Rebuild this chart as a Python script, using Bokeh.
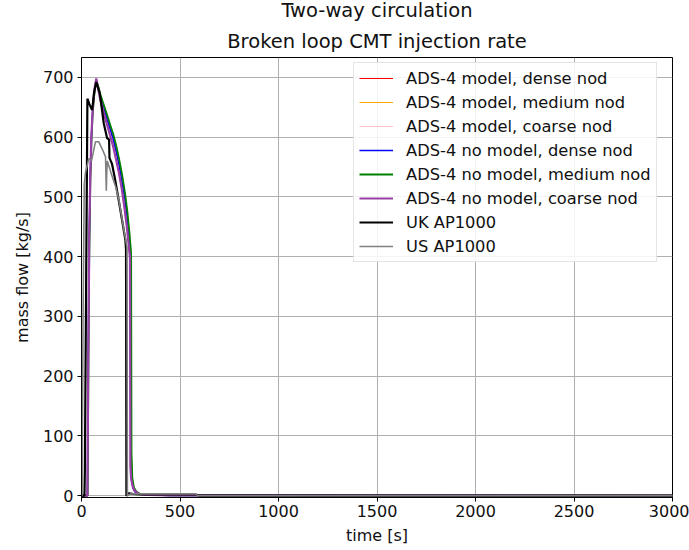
from bokeh.plotting import figure
from bokeh.models import Range1d, Label, Legend, LegendItem, FixedTicker
from bokeh.embed import file_html
from bokeh.resources import INLINE

# ---------------- data ----------------
t_red = [0, 30, 34, 38, 44, 50, 56, 62, 68, 75, 85, 95, 105, 115, 130, 145, 160, 175, 190, 205, 220, 232, 242, 249, 251, 255, 262, 272, 290, 330, 450, 3000]
v_red = [0, 0, 215, 395, 528, 598, 638, 663, 682, 695, 681, 667, 656, 646, 629, 613, 597, 577, 554, 527, 496, 464, 429, 399, 58, 24, 12, 6, 3, 1.5, 0.5, 0]

t_orange = [0, 31, 35, 39, 45, 51, 57, 63, 69, 76, 86, 96, 106, 116, 131, 146, 161, 176, 191, 206, 221, 233, 244, 252, 254, 258, 266, 278, 298, 340, 460, 3000]
v_orange = [0, 0, 205, 385, 522, 596, 638, 662, 680, 693, 683, 670, 660, 650, 635, 619, 604, 585, 562, 536, 505, 474, 437, 404, 68, 29, 14, 7, 3, 1.5, 0.5, 0]

t_pink = [0, 30, 35, 40, 45, 50, 55, 60, 67, 75, 85, 95, 105, 115, 130, 145, 160, 175, 190, 205, 218, 230, 240, 246, 248, 252, 260, 272, 292, 335, 450, 3000]
v_pink = [0, 0, 245, 445, 538, 598, 633, 658, 680, 697, 679, 662, 649, 637, 619, 602, 584, 562, 539, 511, 481, 449, 417, 397, 48, 27, 15, 7, 3, 1.5, 0.5, 0]

t_blue = [0, 30, 34, 38, 44, 50, 56, 62, 68, 75, 85, 95, 105, 115, 130, 145, 160, 175, 190, 205, 220, 232, 242, 249, 251, 255, 262, 272, 290, 330, 450, 3000]
v_blue = [0, 0, 220, 400, 530, 600, 640, 665, 683, 696, 682, 668, 657, 647, 630, 614, 598, 578, 555, 528, 497, 465, 430, 400, 60, 25, 12, 6, 3, 1.5, 0.5, 0]

t_green = [0, 31, 35, 39, 45, 51, 57, 63, 69, 76, 86, 96, 106, 116, 131, 146, 161, 176, 191, 206, 221, 233, 244, 252, 254, 258, 266, 278, 298, 340, 460, 3000]
v_green = [0, 0, 210, 390, 525, 598, 640, 664, 682, 694, 684, 671, 661, 651, 636, 620, 605, 586, 563, 537, 506, 475, 438, 405, 70, 30, 14, 7, 3, 1.5, 0.5, 0]

t_purple = [0, 30, 35, 40, 45, 50, 55, 60, 67, 75, 85, 95, 105, 115, 130, 145, 160, 175, 190, 205, 218, 230, 240, 246, 248, 252, 260, 272, 292, 335, 450, 3000]
v_purple = [0, 0, 250, 450, 540, 600, 635, 660, 682, 698, 680, 663, 650, 638, 620, 603, 585, 563, 540, 512, 482, 450, 418, 398, 50, 28, 15, 7, 3, 1.5, 0.5, 0]

t_uk = [0, 15, 17, 30, 40, 54, 64, 75, 93, 113, 130, 140, 142, 155, 170, 190, 210, 223, 226, 228, 240, 260, 300, 400, 580, 600, 3000]
v_uk = [0, 0, 40, 664, 655, 645, 675, 692, 673, 623, 598, 596, 565, 555, 530, 492, 453, 427, 412, 0, 4, 3, 2, 2, 2, 0, 0]

t_us = [0, 3, 8, 14, 20, 37, 51, 62, 71, 88, 105, 122, 126, 128, 131, 150, 175, 190, 215, 231, 233, 250, 400, 580, 590, 3000]
v_us = [0, 0, 300, 520, 540, 564, 560, 578, 592, 592, 580, 567, 510, 540, 560, 540, 515, 494, 445, 416, 0, 3, 3, 3, 0, 0]

series_labels = ["ADS-4 model, dense nod", "ADS-4 model, medium nod", "ADS-4 model, coarse nod",
                 "ADS-4 no model, dense nod", "ADS-4 no model, medium nod", "ADS-4 no model, coarse nod",
                 "UK AP1000", "US AP1000"]
title_lines = ["Broken loop CMT injection rate", "Two-way circulation"]
x_ticks = [0, 500, 1000, 1500, 2000, 2500, 3000]
y_ticks = [0, 100, 200, 300, 400, 500, 600, 700]

# ---------------- figure ----------------
FONT = "DejaVu Sans"
FRAME_W = 591
p = figure(width=689, height=550, output_backend="svg", toolbar_location=None,
           x_range=Range1d(0, 3000), y_range=Range1d(-3, 733),
           min_border_left=81, min_border_right=17, min_border_top=57, min_border_bottom=53)
p.title.text = ""
p.background_fill_color = "white"
p.border_fill_color = "white"
p.outline_line_color = "black"
p.outline_line_width = 1

# title lines placed in the panel above the frame
for txt, sy in zip(title_lines, [16, 24]):
    p.add_layout(Label(x=FRAME_W / 2, y=sy, x_units="screen", y_units="screen", text=txt,
                       text_align="center", text_baseline="middle", text_font=FONT,
                       text_font_size="19.5px", text_color="#111111"), "above")

for ax in (p.xaxis, p.yaxis):
    ax.axis_line_color = "black"
    ax.major_tick_line_color = "black"
    ax.major_tick_out = 4
    ax.major_tick_in = 0
    ax.minor_tick_line_color = None
    ax.major_label_text_font = FONT
    ax.major_label_text_font_size = "16px"
    ax.major_label_text_color = "#111111"
    ax.axis_label_text_font = FONT
    ax.axis_label_text_font_size = "16px"
    ax.axis_label_text_font_style = "normal"
    ax.axis_label_text_color = "#111111"
p.xaxis.ticker = FixedTicker(ticks=x_ticks)
p.yaxis.ticker = FixedTicker(ticks=y_ticks)
p.xaxis.axis_label = "time [s]"
p.yaxis.axis_label = "mass flow [kg/s]"
p.xaxis.major_label_standoff = 3
p.yaxis.major_label_standoff = 4
p.xaxis.axis_label_standoff = 6
p.yaxis.axis_label_standoff = 8
p.xgrid.grid_line_color = "#b0b0b0"
p.ygrid.grid_line_color = "#b0b0b0"
p.xgrid.ticker = FixedTicker(ticks=x_ticks)
p.ygrid.ticker = FixedTicker(ticks=y_ticks)

specs = [
    (t_red, v_red, "#ff0000", 1.0),
    (t_orange, v_orange, "#ffa500", 1.0),
    (t_pink, v_pink, "#ffc0cb", 1.0),
    (t_blue, v_blue, "#0000ff", 1.5),
    (t_green, v_green, "#008000", 1.8),
    (t_purple, v_purple, "#9a3fa8", 2.2),
    (t_uk, v_uk, "#000000", 2.2),
    (t_us, v_us, "#808080", 1.6),
]
items = []
for (t, v, c, w), lab in zip(specs, series_labels):
    r = p.line(t, v, line_color=c, line_width=w)
    items.append(LegendItem(label=lab, renderers=[r]))

legend = Legend(items=items, location=(272, 235))
legend.label_text_font = FONT
legend.label_text_font_size = "16.3px"
legend.label_text_color = "#111111"
legend.glyph_width = 34
legend.glyph_height = 20
legend.label_height = 20
legend.label_standoff = 13
legend.spacing = 4
legend.padding = 5
legend.margin = 0
legend.border_line_color = "#cccccc"
legend.border_line_width = 1
legend.background_fill_color = "white"
legend.background_fill_alpha = 0.85
p.add_layout(legend)

open("out.html", "w").write(file_html(p, INLINE))
